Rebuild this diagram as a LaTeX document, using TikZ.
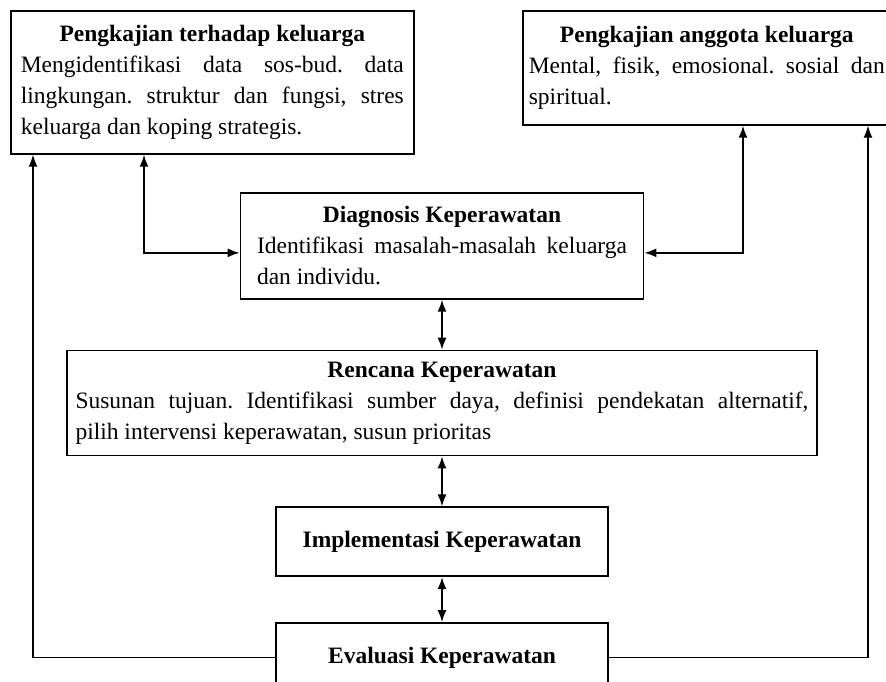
\documentclass[tikz,border=0pt]{standalone}
\usepackage{fontspec}
\setmainfont{Liberation Serif}
\usetikzlibrary{arrows.meta,positioning}
\hyphenpenalty=10000
\tolerance=9999
\frenchspacing

\begin{document}
\begin{tikzpicture}[x=1pt,y=-1pt,>={Latex[length=12pt,width=9pt]},
                    line width=1.7pt,node distance=50pt]
\tikzstyle{every node}=[font=\fontsize{23.5}{31}\selectfont]
  	\tikzstyle{box}=[draw,rectangle,align=justify,inner ysep=4pt]
\tikzstyle{titlebox}=[draw,rectangle,align=center,font=\fontsize{23.5}{31}\selectfont\bfseries,minimum width=332pt,minimum height=69pt]
\tikzstyle{loopline}=[<-,line width=1.3pt]
\useasboundingbox (0,0) rectangle (886,681);

\node [box,anchor=north west,text width=383pt,inner xsep=10pt,minimum height=143pt] (keluarga) at (10,10)
   {{\centering\bfseries Pengkajian terhadap keluarga\par}Mengidentifikasi data sos-bud. data\linebreak lingkungan. struktur dan fungsi, stres\linebreak keluarga dan koping strategis.};
\node [box,anchor=north west,text width=356pt,inner xsep=6pt,minimum height=114pt] (anggota) at (522,10)
   {{\centering\bfseries Pengkajian anggota keluarga\par}Mental, fisik, emosional. sosial dan spiritual.};
\node [box,anchor=north,text width=370pt,inner xsep=16.5pt,minimum height=106pt] (diagnosis) at (442,192)
   {{\centering\bfseries Diagnosis Keperawatan\par}Identifikasi masalah-masalah keluarga dan individu.};
\node [box,text width=733pt,inner xsep=8.5pt,minimum height=105pt] [below=of diagnosis] (rencana)
   {{\centering\bfseries Rencana Keperawatan\par}Susunan tujuan. Identifikasi sumber daya, definisi pendekatan alternatif,\linebreak pilih intervensi keperawatan, susun prioritas};
\node [titlebox] [below=of rencana] (implementasi) {Implementasi Keperawatan};
\node [titlebox] [below=45pt of implementasi] (evaluasi) {Evaluasi Keperawatan};

\path[<->]
      (diagnosis) edge (rencana)
      (rencana) edge (implementasi)
      (implementasi) edge (evaluasi);
\draw[<->] ([xshift=134pt]keluarga.south west) |- ([yshift=-7pt]diagnosis.west);
\draw[<->] ([xshift=221pt]anggota.south west) |- ([yshift=-7pt]diagnosis.east);

\draw[loopline] ([xshift=23pt]keluarga.south west) |- (evaluasi.west);
\draw[loopline] ([xshift=346pt]anggota.south west) |- (evaluasi.east);

	\end{tikzpicture}
\end{document}
